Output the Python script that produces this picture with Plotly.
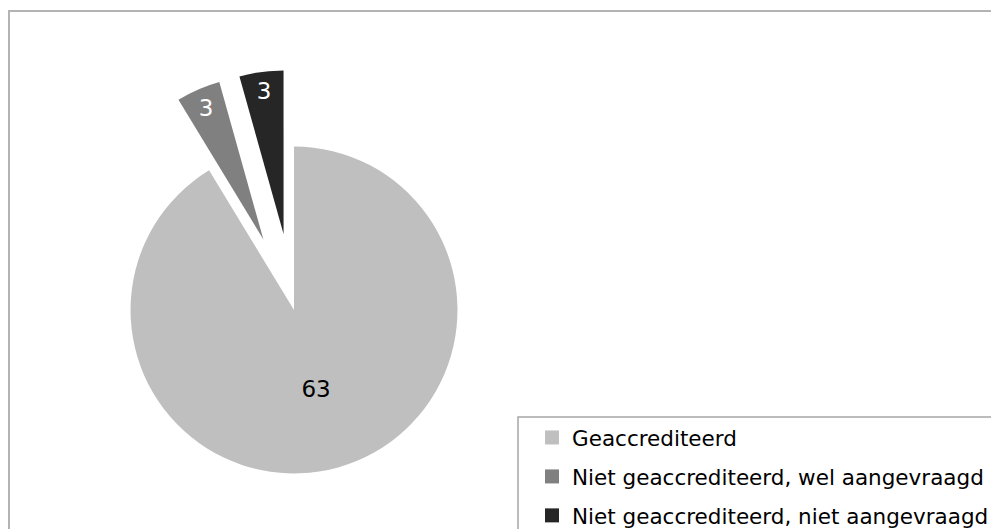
import plotly.graph_objects as go

# data
labels = ["Geaccrediteerd",
          "Niet geaccrediteerd, wel aangevraagd",
          "Niet geaccrediteerd, niet aangevraagd"]
values = [63, 3, 3]
colors = ["#bfbfbf", "#808080", "#262626"]
text_colors = ["black", "white", "white"]
pulls = [0, 0.47, 0.47]

# the original chart is a bit taller than the visible window
W, H = 999, 560

fig = go.Figure()

fig.add_trace(go.Pie(
    labels=labels,
    values=values,
    sort=False,
    direction="clockwise",
    rotation=0,
    pull=pulls,
    marker=dict(colors=colors, line=dict(width=0)),
    textinfo="value",
    textposition="inside",
    insidetextorientation="horizontal",
    textfont=dict(family="DejaVu Sans", size=23, color=text_colors),
    domain=dict(x=[0.04575, 0.52683], y=[0.03161, 0.88982]),
    showlegend=False,
    hoverinfo="label+value",
))

# legend entries (dummy traces so the row spacing can be set)
for i, (name, col) in enumerate(zip(labels, colors)):
    fig.add_trace(go.Scatter(
        x=[None], y=[None],
        mode="markers",
        marker=dict(symbol="square", size=14, color=col),
        name=name,
        legendgroup=f"g{i}",
        showlegend=True,
    ))

fig.update_layout(
    width=W,
    height=H,
    margin=dict(l=0, r=0, t=0, b=0),
    paper_bgcolor="white",
    plot_bgcolor="white",
    xaxis=dict(visible=False),
    yaxis=dict(visible=False),
    font=dict(family="DejaVu Sans", color="black"),
    legend=dict(
        x=524 / W, y=1 - 409 / H,
        xanchor="left", yanchor="top",
        traceorder="grouped",
        tracegroupgap=8,
        font=dict(family="DejaVu Sans", size=21.5, color="black"),
        bgcolor="rgba(0,0,0,0)",
        borderwidth=0,
    ),
    shapes=[
        # chart frame
        dict(type="rect", xref="paper", yref="paper",
             x0=1 / W, x1=1.02, y0=-0.02, y1=1 - 3 / H,
             line=dict(color="#b3b3b3", width=2)),
        # legend frame
        dict(type="rect", xref="paper", yref="paper",
             x0=510 / W, x1=1.02, y0=-0.02, y1=1 - 409 / H,
             line=dict(color="#a6a6a6", width=1.5)),
    ],
)

fig.write_html("out.html")
